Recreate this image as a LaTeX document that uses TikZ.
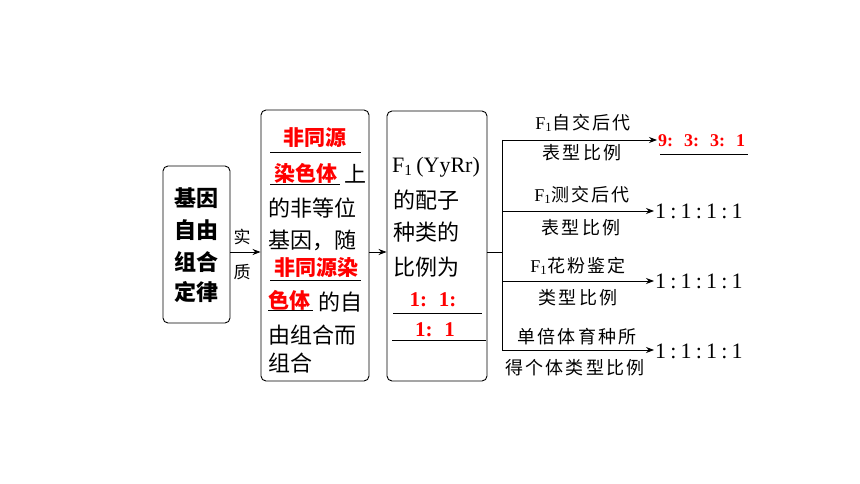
\documentclass[tikz,border=0pt]{standalone}
\usepackage{fontspec}
\setmainfont{Liberation Serif}
\newfontfamily\cjk{Noto Sans CJK SC}
\newfontfamily\cjksp{Noto Sans CJK SC}[LetterSpace=12]
\usetikzlibrary{arrows.meta}
\definecolor{myred}{RGB}{255,0,0}
\begin{document}
\begin{tikzpicture}[x=1pt,y=-1pt,
  box/.style={draw, rounded corners=5pt, line width=0.9pt, inner sep=0pt},
  big/.style={font=\fontsize{22}{22}\selectfont\cjk, inner sep=0pt},
  bigb/.style={font=\fontsize{22}{22}\selectfont\cjk\bfseries, inner sep=0pt},
  redb/.style={font=\fontsize{21}{21}\selectfont\cjk\bfseries, text=myred, inner sep=0pt},
  lab/.style={font=\fontsize{18}{18}\selectfont\cjksp, inner sep=0pt},
  res/.style={font=\fontsize{22}{22}\selectfont, inner sep=1pt, anchor=west},
  arr/.style={-{Stealth[length=8pt,width=6pt]}, line width=0.8pt},
  ln/.style={line width=0.8pt},
  ul/.style={line width=0.9pt}]
\useasboundingbox (0,0) rectangle (860,484);

% boxes
\node[box, minimum width=67pt, minimum height=157pt] (b1) at (196.5,244.5) {};
\node[box, minimum width=108pt, minimum height=271pt] (b2) at (315,245.5) {};
\node[box, minimum width=100pt, minimum height=270pt] (b3) at (437,246) {};

% box 1 text
\node[bigb] (b1a) at (196,198) {基因};
\node[bigb] (b1b) at (196,230) {自由};
\node[bigb] (b1c) at (196,262) {组合};
\node[bigb] (b1d) at (196,292) {定律};

% box 2 text
\node[redb] (b2a) at (315,138) {非同源};
\draw[ul] (270,152) -- (361,152);
\node[redb] (b2b) at (306,173) {染色体};
\draw[ul] (270,184) -- (340,184);
\node[big] (b2c) at (355,174) {上};
\node[big, anchor=west] (b2d) at (268,208) {的非等位};
\node[big, anchor=west] (b2e) at (268,240) {基因，随};
\node[redb] (b2f) at (316,268) {非同源染};
\draw[ul] (270,280) -- (361,280);
\node[redb] (b2g) at (289,300) {色体};
\draw[ul] (268,310) -- (313,310);
\node[big] (b2h) at (340,302) {的自};
\node[big, anchor=west] (b2i) at (268,335) {由组合而};
\node[big, anchor=west] (b2j) at (268,363) {组合};

% box 3 text
\node[font=\fontsize{22}{22}\selectfont, inner sep=0pt, anchor=west] (b3a) at (392,167) {F\textsubscript{1}\,(YyRr)};
\node[big, anchor=west] (b3b) at (393,200) {的配子};
\node[big, anchor=west] (b3c) at (393,232) {种类的};
\node[big, anchor=west] (b3d) at (393,267) {比例为};
\node[font=\fontsize{21}{21}\selectfont\bfseries, text=myred, inner sep=0pt] (b3e) at (433,300) {1:\kern12pt1:};
\draw[ul] (393,313) -- (482,313);
\node[font=\fontsize{21}{21}\selectfont\bfseries, text=myred, inner sep=0pt] (b3f) at (435,330) {1:\kern12pt1};
\draw[ul] (392,340) -- (486,340);

% arrows between boxes
\coordinate (lvl) at (0,252);
\draw[arr] (b1.east |- lvl) -- (b2.west |- lvl);
\node[font=\fontsize{17}{17}\selectfont\cjk, inner sep=0pt] (shi) at (242,237) {实};
\node[font=\fontsize{17}{17}\selectfont\cjk, inner sep=0pt] (zhi) at (242,272) {质};
\draw[arr] (b2.east |- lvl) -- (b3.west |- lvl);

% branch
\coordinate (jx) at (502,252);
\draw[ln] (b3.east |- lvl) -- (jx);

% results
\node[res, font=\fontsize{18}{18}\selectfont\bfseries, text=myred] (r1) at (657,141) {9:\kern11pt3:\kern11pt3:\kern11pt1};
\draw[ul] (660,154) -- (748,154);
\node[res] (r2) at (654,211) {1\kern4.2pt:\kern4.2pt1\kern4.2pt:\kern4.2pt1\kern4.2pt:\kern4.2pt1};
\node[res] (r3) at (654,281) {1\kern4.2pt:\kern4.2pt1\kern4.2pt:\kern4.2pt1\kern4.2pt:\kern4.2pt1};
\node[res] (r4) at (654,351) {1\kern4.2pt:\kern4.2pt1\kern4.2pt:\kern4.2pt1\kern4.2pt:\kern4.2pt1};

\coordinate (top) at (502,140);
\coordinate (bot) at (502,350);
\draw[ln] (top) -- (bot);
\draw[arr] (top) -- (r1.west |- top);
\draw[arr] (jx |- r2.west) -- (r2.west);
\draw[arr] (jx |- r3.west) -- (r3.west);
\draw[arr] (bot) -- (r4.west |- bot);

% branch labels
\node[lab] (l1a) at (583,123) {\fontspec{Liberation Serif}F\textsubscript{1}\cjksp 自交后代};
\node[lab] (l1b) at (582,153) {表型比例};
\node[lab] (l2a) at (582,195) {\fontspec{Liberation Serif}F\textsubscript{1}\cjksp 测交后代};
\node[lab] (l2b) at (581,228) {表型比例};
\node[lab] (l3a) at (578,266) {\fontspec{Liberation Serif}F\textsubscript{1}\cjksp 花粉鉴定};
\node[lab] (l3b) at (578,298) {类型比例};
\node[lab] (l4a) at (577,337) {单倍体育种所};
\node[lab] (l4b) at (575,368) {得个体类型比例};
\end{tikzpicture}
\end{document}
